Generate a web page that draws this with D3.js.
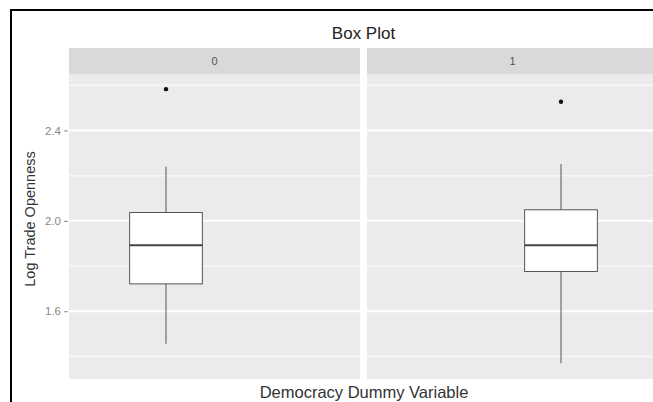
<!DOCTYPE html>
<html>
<head>
<meta charset="utf-8">
<script src="https://cdn.jsdelivr.net/npm/d3@7/dist/d3.min.js"></script>
<style>
  html, body { margin: 0; padding: 0; background: #fff; }
  svg { display: block; font-family: "Liberation Sans", Arial, sans-serif; }
</style>
</head>
<body>
<script>
// Facet levels of the democracy dummy
const categories = ["0", "1"];
// Five-number summaries of log trade openness per group
const whiskerLow  = [1.456, 1.370];
const q1          = [1.721, 1.776];
const medians     = [1.892, 1.892];
const q3          = [2.037, 2.049];
const whiskerHigh = [2.240, 2.251];
const outliers    = [[2.583], [2.527]];
// Axis ticks
const majorTicks = [1.6, 2.0, 2.4];
const minorTicks = [1.4, 1.8, 2.2, 2.6];

const W = 653, H = 402;
const svg = d3.select("body").append("svg").attr("width", W).attr("height", H);

const panelTop = 74, panelBottom = 379, stripTop = 48;
const y = d3.scaleLinear().domain([1.3, 2.65]).range([panelBottom, panelTop]);

// Facet panels laid out side by side
const facet = d3.scaleBand().domain(categories).range([69, 658]).paddingInner(0.0235);
const pw = facet.bandwidth();
// Shared discrete x scale inside each panel
const x = d3.scalePoint().domain(categories).range([0, pw]).padding(1);
const boxW = x.step() * 0.75;

const rows = categories.map((c, i) => ({
  cat: c, lo: whiskerLow[i], q1: q1[i], med: medians[i], q3: q3[i], hi: whiskerHigh[i], out: outliers[i]
}));

const panels = svg.selectAll("g.panel").data(rows).join("g")
  .attr("class", "panel")
  .attr("transform", d => `translate(${facet(d.cat)},0)`);

// strip
panels.append("rect").attr("x", 0).attr("y", stripTop).attr("width", pw)
  .attr("height", panelTop - stripTop).attr("fill", "#d9d9d9");
panels.append("text").attr("x", pw / 2).attr("y", (stripTop + panelTop) / 2 + 4)
  .attr("text-anchor", "middle").attr("font-size", 11).attr("fill", "#555")
  .text(d => d.cat);

// panel background and grid
panels.append("rect").attr("x", 0).attr("y", panelTop).attr("width", pw)
  .attr("height", panelBottom - panelTop).attr("fill", "#ebebeb");
panels.each(function () {
  const g = d3.select(this);
  g.selectAll("line.minor").data(minorTicks).join("line")
    .attr("x1", 0).attr("x2", pw).attr("y1", v => y(v)).attr("y2", v => y(v))
    .attr("stroke", "#f7f7f7").attr("stroke-width", 1.5);
  g.selectAll("line.major").data(majorTicks).join("line")
    .attr("x1", 0).attr("x2", pw).attr("y1", v => y(v)).attr("y2", v => y(v))
    .attr("stroke", "#ffffff").attr("stroke-width", 2);
});

// box plot marks
panels.each(function (d) {
  const g = d3.select(this);
  const cx = x(d.cat);
  g.append("line").attr("x1", cx).attr("x2", cx).attr("y1", y(d.hi)).attr("y2", y(d.q3))
    .attr("stroke", "#555").attr("stroke-width", 1);
  g.append("line").attr("x1", cx).attr("x2", cx).attr("y1", y(d.q1)).attr("y2", y(d.lo))
    .attr("stroke", "#555").attr("stroke-width", 1);
  g.append("rect").attr("x", cx - boxW / 2).attr("y", y(d.q3)).attr("width", boxW)
    .attr("height", y(d.q1) - y(d.q3)).attr("fill", "#fff").attr("stroke", "#555").attr("stroke-width", 1);
  g.append("line").attr("x1", cx - boxW / 2).attr("x2", cx + boxW / 2)
    .attr("y1", y(d.med)).attr("y2", y(d.med)).attr("stroke", "#444").attr("stroke-width", 2);
  g.selectAll("circle").data(d.out).join("circle")
    .attr("cx", cx).attr("cy", v => y(v)).attr("r", 2.2).attr("fill", "#111");
});

// y axis
const yAxis = d3.axisLeft(y).tickValues(majorTicks).tickFormat(d3.format(".1f")).tickSize(4).tickPadding(3);
const ya = svg.append("g").attr("transform", "translate(68,0)").call(yAxis);
ya.select(".domain").remove();
ya.selectAll(".tick line").attr("stroke", "#888");
ya.selectAll(".tick text").attr("fill", "#888").attr("font-size", 11.5)
  .attr("font-family", "Liberation Sans, Arial, sans-serif");

// titles
svg.append("text").attr("x", 363.5).attr("y", 39).attr("text-anchor", "middle")
  .attr("font-size", 17).attr("fill", "#222").text("Box Plot");
svg.append("text").attr("x", 364).attr("y", 398).attr("text-anchor", "middle")
  .attr("font-size", 16.5).attr("fill", "#333")
  .text("Democracy Dummy Variable");
svg.append("text").attr("transform", "translate(35,219) rotate(-90)").attr("text-anchor", "middle")
  .attr("font-size", 14.5).attr("fill", "#333").text("Log Trade Openness");

// frame on top and left edges
svg.append("line").attr("x1", 11).attr("x2", W).attr("y1", 10).attr("y2", 10)
  .attr("stroke", "#000").attr("stroke-width", 2);
svg.append("line").attr("x1", 11).attr("x2", 11).attr("y1", 9).attr("y2", H)
  .attr("stroke", "#000").attr("stroke-width", 2);
</script>
</body>
</html>
